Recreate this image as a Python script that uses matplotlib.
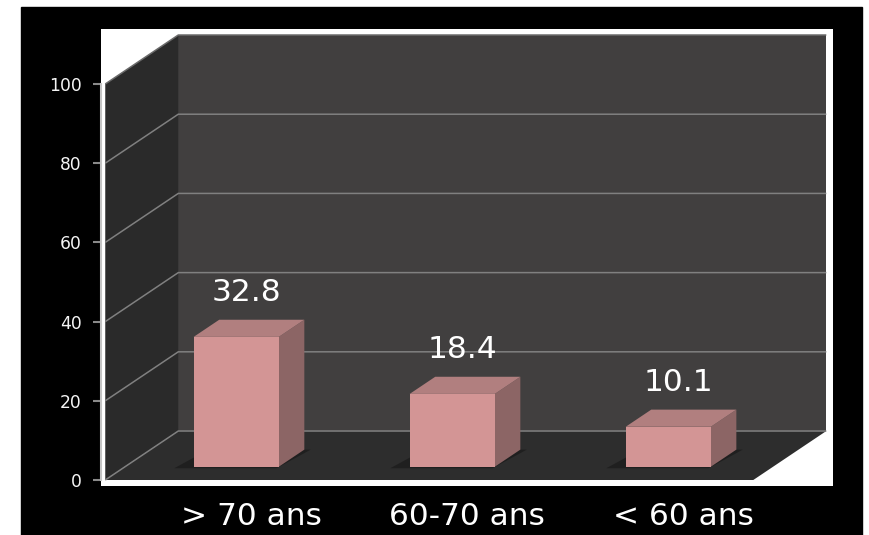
import matplotlib
matplotlib.use("Agg")
import matplotlib.pyplot as plt
from matplotlib.patches import Polygon, Rectangle

# ---- data ----
categories = ["> 70 ans", "60-70 ans", "< 60 ans"]
values = [32.8, 18.4, 10.1]
value_labels = ["32.8", "18.4", "10.1"]
yticks = [0, 20, 40, 60, 80, 100]

# ---- 3D-look geometry (data units) ----
DX, DY = 0.338, 12.37          # full depth offset
FX0, FX1 = -0.515, 2.485       # floor front extent
D0, D1 = 0.27, 0.62            # bar depth (fraction of full depth)
HALF_W = 0.197                 # bar half width
BASE_OFF = 0.0                 # bar base offset from category index


def proj(x, v, d):
    return (x + d * DX, v + d * DY)


fig = plt.figure(figsize=(8.7, 5.35), dpi=100)
fig.patch.set_facecolor("white")
bg = Rectangle((21 / 870, 0), (862 - 21) / 870, 1 - 7 / 535,
               transform=fig.transFigure, color="black", zorder=-10)
fig.add_artist(bg)

ax = fig.add_axes([101 / 870, 49 / 535, 732 / 870, 457 / 535])
ax.set_zorder(1)
ax.set_facecolor("white")
ax.set_xlim(-0.5347, 2.854)
ax.set_ylim(-1.515, 113.89)

ymax = yticks[-1]

# walls
back = [proj(FX0, 0, 1), proj(FX1, 0, 1), proj(FX1, ymax, 1), proj(FX0, ymax, 1)]
left = [proj(FX0, 0, 0), proj(FX0, 0, 1), proj(FX0, ymax, 1), proj(FX0, ymax, 0)]
floor = [proj(FX0, 0, 0), proj(FX1, 0, 0), proj(FX1, 0, 1), proj(FX0, 0, 1)]
ax.add_patch(Polygon(back, closed=True, fc="#413f3f", ec="none", zorder=1))
ax.add_patch(Polygon(left, closed=True, fc="#2a2a2a", ec="none", zorder=1))
ax.add_patch(Polygon(floor, closed=True, fc="#2d2d2d", ec="none", zorder=1))

# gridlines
for t in yticks:
    a = proj(FX0, t, 0)
    b = proj(FX0, t, 1)
    c = proj(FX1, t, 1)
    col = "#808080" if t < ymax else "#6a6a6a"
    ax.plot([a[0], b[0], c[0]], [a[1], b[1], c[1]], color=col, lw=1.1,
            zorder=2, solid_capstyle="butt")

# bars
for i, v in enumerate(values):
    xl = i + BASE_OFF - HALF_W
    xr = i + BASE_OFF + HALF_W
    # shadow
    sh = [proj(xl - 0.08, 0, D0 - 0.03), proj(xr, 0, D0 - 0.03),
          proj(xr + 0.03, 0, D1), proj(xl - 0.05, 0, D1)]
    ax.add_patch(Polygon(sh, closed=True, fc="#1c1c1c", ec="none", alpha=0.8, zorder=3))
    front = [proj(xl, 0, D0), proj(xr, 0, D0), proj(xr, v, D0), proj(xl, v, D0)]
    side = [proj(xr, 0, D0), proj(xr, 0, D1), proj(xr, v, D1), proj(xr, v, D0)]
    top = [proj(xl, v, D0), proj(xr, v, D0), proj(xr, v, D1), proj(xl, v, D1)]
    ax.add_patch(Polygon(side, closed=True, fc="#8c6565", ec="none", zorder=4))
    ax.add_patch(Polygon(top, closed=True, fc="#b17f7f", ec="none", zorder=4))
    ax.add_patch(Polygon(front, closed=True, fc="#d39595", ec="none", zorder=5))
    ax.text(i + 0.14, v + 12.3, value_labels[i], color="white",
            fontsize=22.5, family="DejaVu Sans", ha="center", va="baseline", zorder=6)

# category labels
for i, c in enumerate(categories):
    ax.text(i + 0.16, -0.0853, c, transform=ax.get_xaxis_transform(),
            color="white", fontsize=22.5, family="DejaVu Sans",
            ha="center", va="baseline", clip_on=False)

# axes styling
for s in ["top", "right", "bottom"]:
    ax.spines[s].set_visible(False)
ax.spines["left"].set_bounds(0, ymax)
ax.spines["left"].set_color("#c4c4c4")
ax.spines["left"].set_linewidth(1.5)
ax.set_xticks([])
ax.set_yticks(yticks)
ax.set_yticklabels([str(t) for t in yticks], family="DejaVu Sans")
ax.tick_params(axis="y", length=6, width=1.5, color="#8a8a8a",
               labelcolor="#f4f4f4", labelsize=12.3, pad=8)

fig.savefig("out.png", dpi=100, facecolor=fig.get_facecolor())
